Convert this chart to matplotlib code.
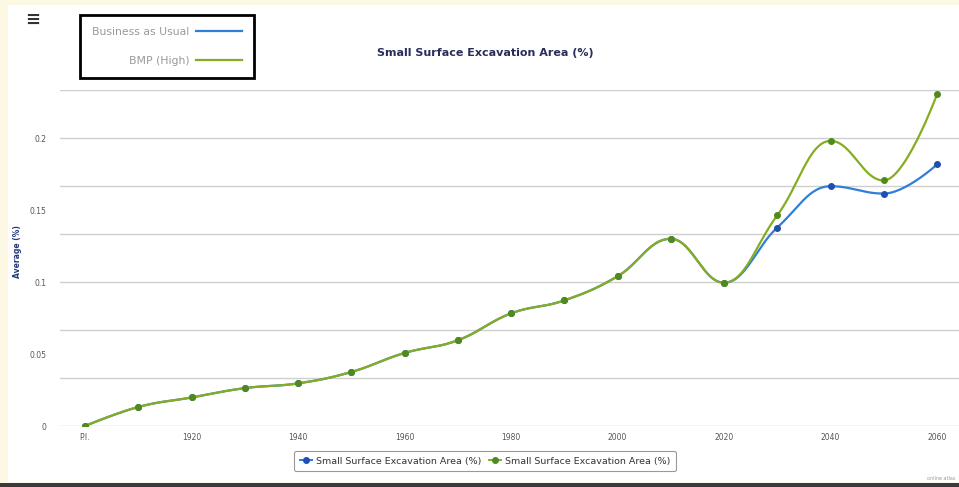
import numpy as np
import matplotlib.pyplot as plt
from matplotlib.lines import Line2D
from matplotlib.patches import Rectangle

# data
years = [1900, 1910, 1920, 1930, 1940, 1950, 1960, 1970, 1980, 1990,
         2000, 2010, 2020, 2030, 2040, 2050, 2060]
bau = [0, 0.0132, 0.0198, 0.0263, 0.0296, 0.0375, 0.0507, 0.0595, 0.0782, 0.0872,
       0.1039, 0.130, 0.0995, 0.1378, 0.1665, 0.1614, 0.1816]
bmp_high = [0, 0.0132, 0.0198, 0.0263, 0.0296, 0.0375, 0.0507, 0.0595, 0.0782, 0.0872,
            0.1039, 0.130, 0.0995, 0.1463, 0.198, 0.1705, 0.2303]
xtick_years = [1900, 1920, 1940, 1960, 1980, 2000, 2020, 2040, 2060]
xtick_labels = ['P.I.', '1920', '1940', '1960', '1980', '2000', '2020', '2040', '2060']
ytick_vals = [0, 0.05, 0.1, 0.15, 0.2]
ytick_labels = ['0', '0.05', '0.1', '0.15', '0.2']

BLUE = '#2f7ed8'
BLUE_DOT = '#1f4fb0'
GREEN = '#86ad22'
GREEN_DOT = '#4f8a1c'


def spline(xs, ys, steps=30):
    # highcharts-like spline (smoothing 1.5) drawn through the points
    xs = np.asarray(xs, float)
    ys = np.asarray(ys, float)
    n = len(xs)
    lc = [(xs[i], ys[i]) for i in range(n)]
    rc = [(xs[i], ys[i]) for i in range(n)]
    for i in range(1, n - 1):
        px, py = xs[i], ys[i]
        lx, ly = xs[i - 1], ys[i - 1]
        nx, ny = xs[i + 1], ys[i + 1]
        lcx = (1.5 * px + lx) / 2.5
        lcy = (1.5 * py + ly) / 2.5
        rcx = (1.5 * px + nx) / 2.5
        rcy = (1.5 * py + ny) / 2.5
        if lcy != rcy and lcx != rcx:
            corr = (rcy - lcy) * (rcx - px) / (rcx - lcx) + py - rcy
            lcy += corr
            rcy += corr
            if lcy > ly and lcy > py:
                lcy = max(ly, py)
                rcy = 2 * py - lcy
            elif lcy < ly and lcy < py:
                lcy = min(ly, py)
                rcy = 2 * py - lcy
            if rcy > ny and rcy > py:
                rcy = max(ny, py)
                lcy = 2 * py - rcy
            elif rcy < ny and rcy < py:
                rcy = min(ny, py)
                lcy = 2 * py - rcy
        lc[i] = (lcx, lcy)
        rc[i] = (rcx, rcy)
    t = np.linspace(0, 1, steps)[:, None]
    out = []
    for i in range(n - 1):
        p0 = np.array([xs[i], ys[i]])
        p1 = np.array(rc[i])
        p2 = np.array(lc[i + 1])
        p3 = np.array([xs[i + 1], ys[i + 1]])
        seg = ((1 - t) ** 3) * p0 + 3 * ((1 - t) ** 2) * t * p1 + 3 * (1 - t) * t ** 2 * p2 + t ** 3 * p3
        out.append(seg if i == 0 else seg[1:])
    out = np.vstack(out)
    return out[:, 0], out[:, 1]


W, H = 959, 487
fig = plt.figure(figsize=(W / 100, H / 100), dpi=100, facecolor='#fdf8e4')
fig.patches.append(Rectangle((8 / W, 5 / H), 1, 1 - 10 / H, transform=fig.transFigure,
                             facecolor='white', edgecolor='none', zorder=-10))
fig.patches.append(Rectangle((0, 0), 1, 4 / H, transform=fig.transFigure,
                             facecolor='#3a3a3a', edgecolor='none', zorder=-10))

ax = fig.add_axes([60 / W, (H - 426) / H, 899 / W, 336 / H])
ax.set_facecolor('none')
ax.set_zorder(1)

for k in range(1, 8):
    ax.axhline(k / 30, color='#cfcfcf', lw=1, zorder=1)
ax.axhline(0, color='#c0d0e0', lw=1, zorder=1)

bx, by = spline(years, bau)
gx, gy = spline(years, bmp_high)
ax.plot(bx, by, color=BLUE, lw=1.6, zorder=3)
ax.plot(years, bau, 'o', color=BLUE_DOT, ms=4, zorder=4)
ax.plot(gx, gy, color=GREEN, lw=1.6, zorder=5)
ax.plot(years, bmp_high, 'o', color=GREEN_DOT, ms=4, zorder=6)

ax.set_xlim(1900 - 25 / 5.325, 1900 + 874 / 5.325)
ax.set_ylim(0, 7 / 30)
ax.set_xticks(xtick_years)
ax.set_xticklabels(xtick_labels)
ax.set_yticks(ytick_vals)
ax.set_yticklabels(ytick_labels)
ax.tick_params(length=0, labelsize=5.5, labelcolor='#555555')
ax.tick_params(axis='x', pad=5)
ax.tick_params(axis='y', pad=10)
for s in ax.spines.values():
    s.set_visible(False)

fig.text(485 / W, 1 - 53 / H, 'Small Surface Excavation Area (%)', ha='center', va='center',
         fontsize=8, fontweight='bold', color='#2a2c5c')
fig.text(18 / W, 1 - 252 / H, 'Average (%)', rotation=90, ha='center', va='center',
         fontsize=5.5, fontweight='bold', color='#24387a')
fig.text(33 / W, 1 - 20 / H, '\u2261', ha='center', va='center', fontsize=13,
         fontweight='bold', color='#333333')
fig.text(955 / W, 1 - 479 / H, 'online atlas', ha='right', va='center',
         fontsize=3.5, color='#999999')

# top-left legend box
top_handles = [Line2D([], [], color=BLUE, lw=1.6), Line2D([], [], color=GREEN, lw=1.6)]
leg1 = fig.legend(top_handles, ['Business as Usual', 'BMP (High)'], loc='upper left',
                  bbox_to_anchor=(80 / W, 1 - 15 / H), borderaxespad=0, markerfirst=False,
                  fontsize=7.8, labelcolor='#9a9a9a', fancybox=False, edgecolor='black',
                  framealpha=1, labelspacing=1.75, handlelength=4.3, borderpad=1.1,
                  handletextpad=0.6, alignment='right')
leg1.get_frame().set_linewidth(2)
for t in leg1.get_texts():
    t.set_ha('right')

# bottom legend
bot_handles = [Line2D([], [], color=BLUE, marker='o', ms=4, mfc=BLUE_DOT, mec=BLUE_DOT, lw=1.4),
               Line2D([], [], color=GREEN, marker='o', ms=4, mfc=GREEN_DOT, mec=GREEN_DOT, lw=1.4)]
leg2 = fig.legend(bot_handles, ['Small Surface Excavation Area (%)', 'Small Surface Excavation Area (%)'],
                  loc='upper center', bbox_to_anchor=(485 / W, 1 - 451 / H), borderaxespad=0,
                  ncol=2, fontsize=6.8, labelcolor='#333333', fancybox=True, edgecolor='#999999',
                  framealpha=1, handlelength=1.3, handletextpad=0.4, columnspacing=0.8,
                  borderpad=0.6)
leg2.get_frame().set_linewidth(0.8)

fig.savefig('out.png', dpi=100, facecolor=fig.get_facecolor())
